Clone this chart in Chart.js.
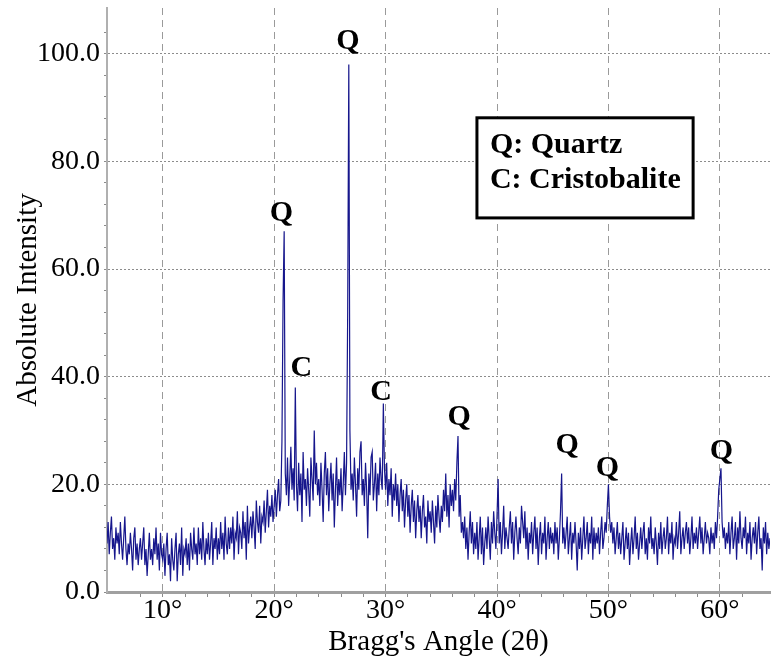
<!DOCTYPE html>
<html>
<head>
<meta charset="utf-8">
<script src="https://cdn.jsdelivr.net/npm/chart.js@4.4.1/dist/chart.umd.min.js"></script>
<style>
  html, body { margin: 0; padding: 0; background: #fff; }
  #wrap { width: 771px; height: 663px; }
</style>
</head>
<body>
<div id="wrap"><canvas id="xrd"></canvas></div>
<script>
// XRD scan, 2θ from 5.0° in 0.1° steps
const startAngle = 5.0;
const stepAngle = 0.1;

const intensity = [
  9, 13, 7, 11, 14, 8, 10, 6, 12, 9,      // 5
  11, 7, 13, 9, 6, 10, 14, 8, 5, 9,       // 6
  7, 11, 8, 4, 10, 12, 6, 9, 5, 8,        // 7
  10, 6, 9, 12, 5, 8, 3, 7, 11, 6,        // 8
  8, 5, 10, 7, 12, 6, 9, 4, 11, 7,        // 9
  6, 9, 3, 8, 11, 5, 7, 2, 10, 6,         // 10
  4, 8, 11, 2, 7, 9, 5, 12, 3, 8,         // 11
  7, 10, 5, 9, 4, 11, 8, 6, 12, 7,        // 12
  9, 5, 12, 7, 10, 6, 13, 8, 5, 10,       // 13
  7, 11, 6, 9, 13, 5, 10, 8, 12, 6,       // 14
  10, 7, 13, 8, 11, 6, 14, 9, 7, 12,      // 15
  8, 12, 9, 14, 6, 11, 10, 15, 7, 12,     // 16
  11, 8, 15, 10, 13, 6, 16, 9, 12, 14,    // 17
  10, 15, 12, 8, 17, 13, 11, 16, 9, 14,   // 18
  13, 17, 11, 15, 19, 12, 16, 14, 18, 13, // 19
  16, 19, 14, 18, 21, 15, 17, 28, 54, 67, // 20
  22, 18, 25, 16, 21, 27, 19, 23, 17, 38, // 21
  20, 15, 24, 18, 22, 13, 26, 19, 21, 16, // 22
  23, 19, 14, 25, 21, 17, 30, 20, 24, 18, // 23
  21, 16, 24, 19, 13, 22, 26, 18, 23, 15, // 24
  20, 24, 17, 22, 12, 19, 25, 16, 21, 18, // 25
  23, 15, 20, 26, 18, 24, 52, 98, 30, 19, // 26
  22, 17, 25, 20, 14, 23, 19, 26, 28, 18, // 27
  21, 16, 24, 19, 10, 22, 18, 25, 26, 17, // 28
  20, 24, 15, 22, 18, 25, 21, 19, 35, 23, // 29
  19, 24, 16, 21, 18, 23, 14, 20, 17, 22, // 30
  16, 20, 13, 18, 21, 15, 19, 12, 17, 20, // 31
  14, 18, 11, 16, 19, 13, 17, 10, 15, 18, // 32
  13, 16, 10, 15, 18, 12, 14, 9, 17, 13,  // 33
  15, 11, 17, 13, 9, 16, 12, 18, 14, 11,  // 34
  16, 13, 19, 15, 22, 14, 18, 12, 20, 16, // 35
  19, 15, 21, 17, 24, 29, 14, 18, 11, 13, // 36
  10, 14, 8, 12, 6, 11, 15, 9, 13, 7,     // 37
  11, 8, 13, 6, 10, 14, 7, 12, 5, 9,      // 38
  12, 8, 14, 10, 6, 13, 9, 15, 11, 8,     // 39
  14, 21, 9, 13, 7, 11, 16, 8, 12, 10,    // 40
  8, 12, 15, 9, 13, 6, 11, 14, 10, 7,     // 41
  12, 9, 16, 13, 10, 15, 8, 12, 6, 11,    // 42
  9, 13, 7, 11, 14, 8, 12, 5, 10, 13,     // 43
  7, 11, 9, 14, 6, 10, 13, 8, 12, 9,      // 44
  11, 7, 13, 9, 12, 6, 10, 15, 22, 9,     // 45
  12, 8, 11, 14, 7, 10, 13, 6, 11, 9,     // 46
  13, 9, 4, 11, 8, 12, 6, 10, 14, 8,      // 47
  10, 13, 7, 11, 9, 14, 6, 12, 8, 11,     // 48
  9, 12, 7, 11, 14, 8, 10, 13, 11, 16,    // 49
  20, 14, 11, 13, 9, 12, 7, 10, 13, 8,    // 50
  11, 7, 10, 13, 6, 9, 12, 8, 11, 5,      // 51
  9, 12, 7, 10, 14, 8, 11, 6, 9, 12,      // 52
  8, 11, 13, 7, 10, 6, 12, 9, 14, 8,      // 53
  10, 7, 12, 9, 5, 11, 8, 13, 7, 10,      // 54
  12, 8, 10, 14, 7, 11, 9, 13, 6, 10,     // 55
  9, 13, 8, 11, 15, 7, 10, 12, 8, 11,     // 56
  13, 9, 12, 7, 10, 14, 8, 11, 9, 12,     // 57
  8, 11, 14, 9, 12, 7, 10, 13, 9, 11,     // 58
  10, 7, 12, 9, 11, 8, 13, 10, 14, 19,    // 59
  21, 23, 13, 10, 12, 8, 11, 9, 13, 7,    // 60
  11, 14, 8, 10, 13, 6, 12, 9, 15, 10,    // 61
  8, 12, 10, 14, 7, 11, 9, 13, 6, 10,     // 62
  12, 9, 13, 7, 11, 14, 8, 10, 4, 12,     // 63
  9, 13, 7, 11, 8, 10                     // 64
];

// phase labels over the peaks (2θ, intensity where the letter sits)
const peakLetters = ["Q", "C", "Q", "C", "Q", "Q", "Q", "Q"];
const peakLetterAngles = [20.65, 22.45, 26.63, 29.6, 36.6, 46.3, 49.9, 60.15];
const peakLetterValues = [70.4, 41.6, 102.4, 37.2, 32.5, 27.3, 23.0, 26.1];

const legendLines = ["Q: Quartz", "C: Cristobalite"];

const xMin = 5, xMax = 64.5;
const yMin = 0, yMax = 108.5;

const SERIF = "'Liberation Serif', 'Times New Roman', serif";

const points = intensity.map((v, i) => ({ x: +(startAngle + i * stepAngle).toFixed(1), y: v }));

const annotate = {
  id: "annotate",
  afterDatasetsDraw(chart) {
    const { ctx, scales: { x, y } } = chart;
    ctx.save();
    ctx.fillStyle = "#000";
    ctx.font = `bold 30px ${SERIF}`;
    ctx.textAlign = "center";
    ctx.textBaseline = "middle";
    peakLetters.forEach((t, i) => {
      ctx.fillText(t, x.getPixelForValue(peakLetterAngles[i]), y.getPixelForValue(peakLetterValues[i]));
    });

    // legend box
    const left = x.getPixelForValue(38.2);
    const right = x.getPixelForValue(57.6);
    const top = y.getPixelForValue(88.1);
    const bottom = y.getPixelForValue(69.5);
    ctx.fillStyle = "#fff";
    ctx.fillRect(left, top, right - left, bottom - top);
    ctx.lineWidth = 3;
    ctx.strokeStyle = "#000";
    ctx.strokeRect(left, top, right - left, bottom - top);
    ctx.fillStyle = "#000";
    ctx.textAlign = "left";
    ctx.fillText(legendLines[0], left + 13, top + 27);
    ctx.fillText(legendLines[1], left + 13, top + 62);
    ctx.restore();
  }
};

new Chart(document.getElementById("xrd"), {
  type: "line",
  data: {
    datasets: [{
      data: points,
      borderColor: "#16168c",
      borderWidth: 1.2,
      pointRadius: 0,
      tension: 0,
      fill: false
    }]
  },
  options: {
    responsive: true,
    maintainAspectRatio: false,
    animation: false,
    events: [],
    layout: { padding: { top: 8, right: 1, left: 0, bottom: 0 } },
    plugins: { legend: { display: false }, tooltip: { enabled: false } },
    scales: {
      x: {
        type: "linear",
        min: xMin,
        max: xMax,
        afterFit(scale) {
          scale.height = 71;
          scale.paddingLeft = 0;
          scale.paddingRight = 0;
        },
        ticks: {
          stepSize: 2,
          autoSkip: false,
          maxRotation: 0,
          padding: -3,
          color: "#000",
          font: { family: SERIF, size: 28 },
          callback: (v) => (v % 10 === 0 ? `${v}°` : "")
        },
        grid: {
          color: (c) => (c.tick && c.tick.value % 10 === 0 ? "#9a9a9a" : "transparent"),
          lineWidth: 1,
          tickLength: 5,
          tickColor: (c) => (c.tick && c.tick.value % 2 === 0 ? "#8a8a8a" : "transparent")
        },
        border: { color: "#a0a0a0", width: 3, dash: [7, 5] },
        title: {
          display: true,
          text: "Bragg's Angle (2θ)",
          color: "#000",
          font: { family: SERIF, size: 29 },
          padding: { top: 0, bottom: 3 }
        }
      },
      y: {
        min: yMin,
        max: yMax,
        afterFit(scale) {
          scale.width = 107;
          scale.paddingTop = 0;
          scale.paddingBottom = 0;
        },
        ticks: {
          stepSize: 4,
          autoSkip: false,
          padding: 4,
          color: "#000",
          font: { family: SERIF, size: 28 },
          callback: (v) => (v % 20 === 0 ? v.toFixed(1) : "")
        },
        grid: {
          color: (c) => (c.tick && c.tick.value % 20 === 0 && c.tick.value > 0 ? "#8c8c8c" : "transparent"),
          lineWidth: 1,
          tickLength: 3,
          tickColor: (c) => (c.tick && c.tick.value % 4 === 0 ? "#8a8a8a" : "transparent")
        },
        border: { color: "#b0b0b0", width: 2, dash: [2, 2] },
        title: {
          display: true,
          text: "Absolute Intensity",
          color: "#000",
          font: { family: SERIF, size: 29 },
          padding: { top: 11, bottom: 0 }
        }
      }
    }
  },
  plugins: [annotate]
});
</script>
</body>
</html>
